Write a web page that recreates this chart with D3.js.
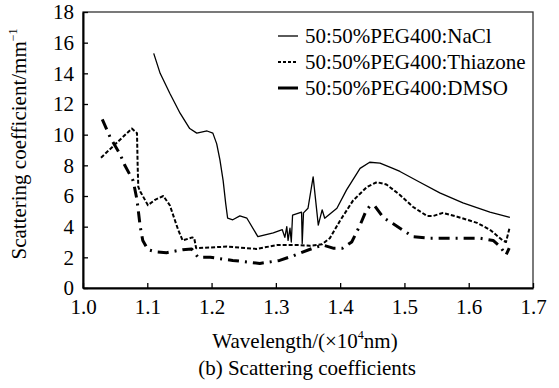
<!DOCTYPE html>
<html>
<head>
<meta charset="utf-8">
<script src="https://cdn.jsdelivr.net/npm/d3@7"></script>
<style>
  body { margin: 0; background: #fff; }
  svg { display: block; }
</style>
</head>
<body>
<script>
// data: [wavelength (x10^4 nm), scattering coefficient (mm^-1)]
var naclData = [[1.110,15.3],[1.120,14.0],[1.135,12.7],[1.151,11.4],[1.166,10.4],[1.177,10.1],[1.193,10.24],
  [1.202,10.1],[1.208,9.4],[1.213,8.35],[1.218,7.0],[1.222,5.5],[1.225,4.55],[1.233,4.45],[1.244,4.7],[1.255,4.55],
  [1.272,3.35],[1.296,3.6],[1.310,3.8],[1.314,3.3],[1.317,4.0],[1.319,3.1],[1.322,3.9],[1.324,3.0],[1.326,4.75],
  [1.340,4.95],[1.341,2.9],[1.343,4.9],[1.350,5.2],[1.358,7.25],[1.366,4.1],[1.372,5.1],[1.376,4.55],[1.395,5.2],
  [1.410,6.4],[1.431,7.8],[1.446,8.2],[1.462,8.15],[1.482,7.8],[1.493,7.6],[1.524,6.9],[1.555,6.2],[1.591,5.55],
  [1.633,4.95],[1.664,4.6]];
var thiazoneData = [[1.028,8.5],[1.076,10.4],[1.084,10.1],[1.085,8.0],[1.086,6.6],[1.089,6.3],[1.101,5.4],
  [1.112,5.75],[1.125,6.0],[1.135,5.4],[1.148,3.8],[1.155,3.1],[1.170,3.3],[1.173,3.25],[1.176,2.6],[1.224,2.7],
  [1.270,2.55],[1.302,2.8],[1.337,2.8],[1.353,2.75],[1.372,2.85],[1.384,3.25],[1.400,4.4],[1.420,5.7],[1.442,6.6],
  [1.457,6.9],[1.472,6.75],[1.493,6.07],[1.513,5.3],[1.535,4.7],[1.545,4.7],[1.560,4.9],[1.582,4.65],[1.613,4.25],
  [1.633,3.8],[1.653,3.1],[1.658,3.0],[1.664,4.0]];
var dmsoData = [[1.030,11.0],[1.042,9.85],[1.058,8.7],[1.065,8.0],[1.078,7.0],[1.084,5.75],[1.089,4.0],[1.093,3.1],
  [1.101,2.5],[1.115,2.35],[1.130,2.3],[1.155,2.5],[1.169,2.55],[1.179,2.0],[1.198,2.0],[1.233,1.8],[1.275,1.6],
  [1.306,1.8],[1.327,2.1],[1.358,2.6],[1.373,2.8],[1.389,2.6],[1.404,2.6],[1.418,3.0],[1.431,4.1],[1.439,4.9],
  [1.446,5.35],[1.454,5.35],[1.467,4.6],[1.482,4.2],[1.493,3.9],[1.513,3.35],[1.540,3.25],[1.591,3.25],[1.617,3.25],
  [1.638,3.1],[1.649,2.7],[1.658,2.15],[1.663,2.6]];
var seriesNames = ["50:50%PEG400:NaCl", "50:50%PEG400:Thiazone", "50:50%PEG400:DMSO"];
var xTicks = [1.0, 1.1, 1.2, 1.3, 1.4, 1.5, 1.6, 1.7];
var yTicks = [0, 2, 4, 6, 8, 10, 12, 14, 16, 18];

var width = 559, height = 388;
var margin = {left: 83, right: 26, top: 12, bottom: 100};

var svg = d3.select("body").append("svg")
    .attr("width", width)
    .attr("height", height);

var x = d3.scaleLinear().domain([1.0, 1.7]).range([margin.left, width - margin.right]);
var y = d3.scaleLinear().domain([0, 18]).range([height - margin.bottom, margin.top]);

// frame
svg.append("rect")
    .attr("x", x(1.0)).attr("y", y(18))
    .attr("width", x(1.7) - x(1.0)).attr("height", y(0) - y(18))
    .attr("fill", "none").attr("stroke", "#333").attr("stroke-width", 1.3);

// axes with inward ticks
var xAxis = svg.append("g")
    .attr("transform", "translate(0," + y(0) + ")")
    .call(d3.axisBottom(x).tickValues(xTicks).tickSizeInner(-5).tickSizeOuter(0).tickPadding(11).tickFormat(d3.format(".1f")));
var yAxis = svg.append("g")
    .attr("transform", "translate(" + x(1.0) + ",0)")
    .call(d3.axisLeft(y).tickValues(yTicks).tickSizeInner(-5).tickSizeOuter(0).tickPadding(9));

[xAxis, yAxis].forEach(function (g) {
    g.attr("font-family", null).attr("font-size", null);
    g.select(".domain").attr("stroke", "#000").attr("stroke-width", 2);
    g.selectAll(".tick line").attr("stroke", "#000").attr("stroke-width", 1.3);
    g.selectAll(".tick text").style("font-size", "21px").attr("fill", "#000");
});

// axis titles
var yTitle = svg.append("text")
    .attr("transform", "translate(26,144) rotate(-90)")
    .attr("text-anchor", "middle")
    .style("font-size", "21px");
yTitle.append("tspan").text("Scattering coefficient/mm");
yTitle.append("tspan").style("font-size", "12px").attr("dy", -9).text("\u22121");

var xTitle = svg.append("text")
    .attr("x", 305).attr("y", 348)
    .attr("text-anchor", "middle")
    .style("font-size", "21px");
xTitle.append("tspan").text("Wavelength/(\u00d710");
xTitle.append("tspan").style("font-size", "12px").attr("dy", -9).text("4");
xTitle.append("tspan").attr("dy", 9).text("nm)");

svg.append("text")
    .attr("x", 307).attr("y", 375)
    .attr("text-anchor", "middle")
    .style("font-size", "21px")
    .text("(b) Scattering coefficients");

// series
var styles = [
    {width: 1.3, dash: null},
    {width: 2, dash: "4,2"},
    {width: 3, dash: "11,6,2,6"}
];
var allData = [naclData, thiazoneData, dmsoData];

var line = d3.line()
    .x(d => x(d[0]))
    .y(d => y(d[1]));

svg.append("g")
    .selectAll("path")
    .data(allData)
    .join("path")
    .attr("d", line)
    .attr("fill", "none")
    .attr("stroke", "#000")
    .attr("stroke-linejoin", "round")
    .attr("stroke-width", (d, i) => styles[i].width)
    .attr("stroke-dasharray", (d, i) => styles[i].dash);

// legend
var legend = svg.append("g")
    .selectAll("g")
    .data(seriesNames)
    .join("g")
    .attr("transform", (d, i) => "translate(278," + (36 + i * 26) + ")");

legend.append("line")
    .attr("x1", 0).attr("x2", 20)
    .attr("stroke", "#000")
    .attr("stroke-width", (d, i) => styles[i].width)
    .attr("stroke-dasharray", (d, i) => i == 1 ? "3,2" : null);

legend.append("text")
    .attr("x", 27).attr("dy", "0.33em")
    .style("font-size", "21px")
    .text(d => d);

// same font on every text, set directly on the element
svg.selectAll("text").style("font-family", "'Liberation Serif'");
</script>
</body>
</html>
